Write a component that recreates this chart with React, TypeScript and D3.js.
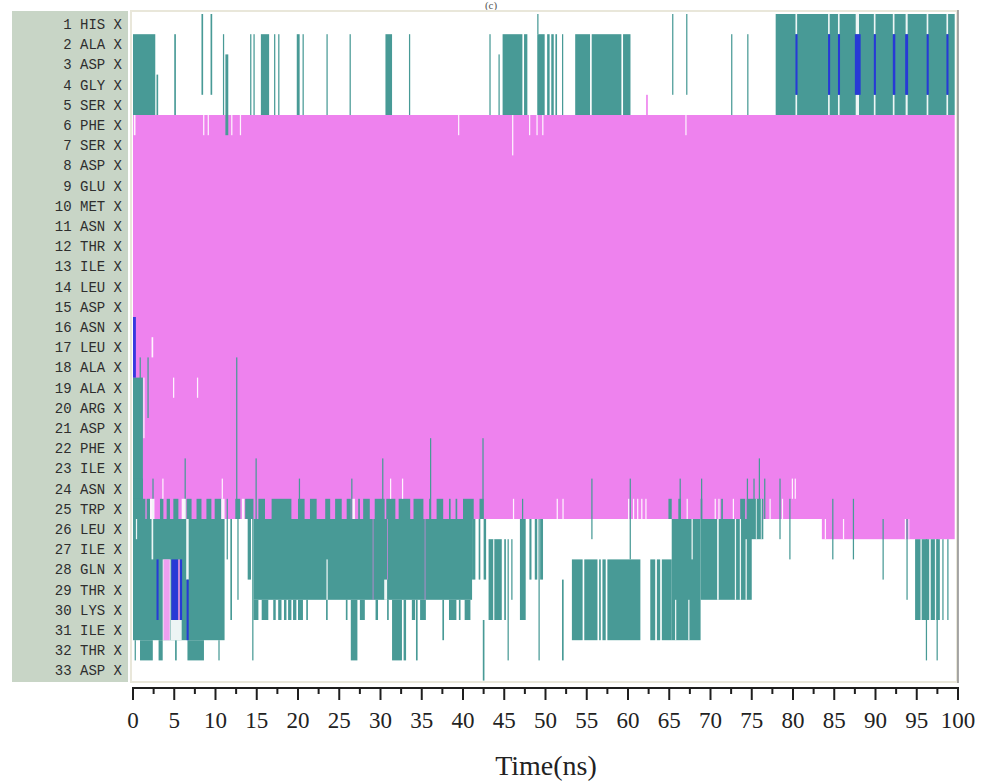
import React from "react";
import * as d3 from "d3";

// residues on the y axis (row 1 at top)
const residues = [
  "HIS", "ALA", "ASP", "GLY", "SER", "PHE", "SER", "ASP", "GLU", "MET", "ASN",
  "THR", "ILE", "LEU", "ASP", "ASN", "LEU", "ALA", "ALA", "ARG", "ASP", "PHE",
  "ILE", "ASN", "TRP", "LEU", "ILE", "GLN", "THR", "LYS", "ILE", "THR", "ASP",
];

const xTicks = [0, 5, 10, 15, 20, 25, 30, 35, 40, 45, 50, 55, 60, 65, 70, 75, 80, 85, 90, 95, 100];
const xMinorTicks = [2.5, 7.5, 12.5, 17.5, 22.5, 27.5, 32.5, 37.5, 42.5, 47.5, 52.5, 57.5, 62.5, 67.5, 72.5, 77.5, 82.5, 87.5, 92.5, 97.5];

// bars: [firstRow, lastRow, startNs, endNs]
const helixBars = [
  [6, 25, 0, 99.6], [26, 26, 83.5, 99.6], [5, 5, 62.2, 62.4],
];

const turnBars = [
  // rows 1-5
  [2, 5, 0, 2.7], [4, 5, 2.85, 3.05], [2, 5, 5.0, 5.2], [1, 4, 8.3, 8.5], [1, 4, 9.4, 9.6],
  [2, 5, 10.9, 11.05], [3, 6, 11.2, 11.55], [2, 5, 14.2, 14.35], [2, 5, 14.6, 14.75],
  [2, 5, 15.5, 16.5], [2, 5, 17.1, 17.25], [2, 5, 17.6, 17.75], [2, 5, 19.85, 20.2],
  [2, 5, 20.55, 20.7], [2, 5, 23.45, 23.6], [2, 5, 26.25, 26.4], [2, 5, 30.6, 31.4],
  [2, 5, 33.45, 33.6], [2, 5, 43.2, 43.35], [3, 5, 44.3, 44.45], [2, 5, 44.8, 47.2],
  [2, 5, 47.4, 47.8], [1, 1, 49.0, 49.15], [2, 5, 49.0, 49.9], [2, 5, 50.2, 50.5],
  [2, 5, 50.7, 51.0], [2, 5, 51.2, 51.4], [2, 5, 52.0, 52.15], [2, 5, 53.6, 55.4],
  [2, 5, 55.6, 59.2], [2, 5, 59.4, 60.3], [1, 4, 65.35, 65.5], [1, 4, 67.05, 67.2],
  [2, 5, 72.5, 72.65], [2, 5, 74.45, 74.6], [1, 5, 77.9, 99.6],
  // lines through the helix
  [19, 25, 0, 1.2], [18, 20, 0.8, 0.95], [18, 20, 1.75, 1.9], [18, 25, 12.5, 12.65],
  [23, 25, 6.25, 6.4], [23, 25, 14.85, 15.0], [24, 25, 2.35, 2.5], [24, 25, 20.1, 20.25],
  [24, 25, 26.45, 26.6], [23, 25, 30.2, 30.35], [22, 25, 36.0, 36.15], [22, 25, 42.35, 42.5],
  [24, 26, 55.55, 55.7], [24, 27, 60.2, 60.35], [24, 25, 66.25, 66.4], [24, 25, 68.85, 69.0],
  [23, 25, 75.85, 76.0], [24, 25, 74.4, 74.55], [24, 25, 75.2, 75.35], [24, 25, 76.5, 76.65],
  [24, 26, 78.35, 78.5], [25, 27, 84.75, 84.9], [25, 27, 87.25, 87.4], [26, 28, 90.85, 91.0],
  [26, 29, 93.75, 93.9], [25, 26, 47.15, 47.3],
  // rows 24-33
  [24, 24, 0, 1.2], [25, 25, 0, 1.5], [26, 31, 0, 11.1],
  [32, 32, 0.2, 0.35], [32, 32, 0.85, 2.4], [32, 32, 3.1, 3.6], [32, 32, 5.1, 5.3],
  [32, 32, 6.6, 8.6], [32, 32, 10.35, 10.5],
  [25, 27, 11.35, 11.5], [26, 30, 11.8, 12.0], [26, 29, 12.65, 12.8], [26, 28, 13.9, 14.3],
  [26, 32, 14.45, 14.6], [26, 29, 14.6, 41.1],
  [26, 28, 41.1, 41.5], [26, 28, 41.9, 42.1], [26, 28, 42.5, 42.8],
  [30, 32, 26.4, 27.2], [30, 32, 31.4, 32.6], [30, 32, 32.8, 33.1], [30, 32, 34.3, 34.5],
  [30, 31, 37.5, 37.7], [31, 33, 42.4, 42.6],
  [27, 30, 43.1, 44.7], [27, 30, 45.0, 45.2], [27, 32, 45.4, 45.55], [27, 29, 45.85, 46.0],
  [26, 30, 46.9, 47.6], [26, 28, 48.05, 48.3], [26, 28, 48.7, 49.0], [26, 28, 49.35, 49.7],
  [26, 32, 49.15, 49.3], [29, 32, 52.0, 52.2],
  [28, 31, 53.2, 54.5], [28, 31, 54.7, 56.3], [28, 31, 56.5, 56.7], [28, 31, 56.9, 57.3],
  [28, 31, 57.5, 61.5], [28, 31, 62.7, 63.3], [28, 31, 63.5, 63.9], [28, 31, 64.1, 65.3],
  [26, 31, 65.3, 68.8], [26, 29, 68.8, 75.0], [25, 26, 74.4, 76.4], [25, 27, 79.55, 79.7],
  [27, 30, 94.8, 97.8], [27, 32, 96.1, 96.25], [27, 32, 97.4, 97.55],
  [27, 30, 98.1, 98.25], [27, 30, 98.7, 98.85],
];

// turn stripes in row 25 (TRP) and row 30 (LYS): [startNs, endNs]
const turnRow25 = [
  [1.66, 2.06], [3.27, 3.68], [4.08, 4.48], [4.89, 5.5], [6.5, 7.1], [7.7, 8.3], [8.9, 9.5],
  [9.9, 10.7], [12.4, 13.0], [13.6, 14.6], [15.2, 16.0], [16.8, 19.2], [20.0, 20.8],
  [21.45, 22.26], [23.3, 23.9], [24.5, 25.3], [25.9, 26.4], [27.3, 27.5], [27.9, 28.7],
  [29.3, 30.5], [30.7, 31.8], [32.2, 33.6], [34.0, 35.2], [35.9, 36.1], [36.8, 37.6],
  [38.3, 38.5], [39.1, 39.3], [40.0, 41.3], [42.0, 42.5], [64.9, 65.3], [66.1, 66.4],
  [68.8, 69.0], [71.3, 71.5], [73.6, 74.2],
];
const turnRow30 = [
  [14.6, 15.2], [15.6, 16.4], [17.0, 17.3], [17.6, 18.0], [18.3, 18.6], [18.8, 19.2],
  [19.4, 19.8], [20.0, 20.6], [21.0, 21.2], [23.4, 23.6], [25.8, 26.0], [27.5, 28.1],
  [29.4, 29.7], [30.8, 31.0], [33.8, 34.2], [34.8, 35.5], [38.3, 39.2], [39.5, 39.7],
  [40.2, 40.9],
];

// coil (no structure) breaks
const coilBars = [
  [6, 6, 0.1, 0.3], [6, 6, 8.5, 8.65], [6, 6, 9.05, 9.2], [6, 6, 11.9, 12.05], [6, 6, 12.95, 13.1],
  [6, 6, 39.4, 39.55], [6, 7, 45.95, 46.1], [6, 6, 48.0, 48.15], [6, 6, 48.9, 49.05],
  [6, 6, 49.6, 49.75], [6, 6, 66.95, 67.1],
  [17, 17, 2.25, 2.45], [19, 19, 4.85, 5.0], [19, 19, 7.75, 7.9], [19, 21, 1.25, 1.4],
  [24, 24, 3.55, 3.7], [24, 24, 10.75, 10.9], [24, 24, 31.15, 31.3], [24, 24, 32.6, 32.75],
  [24, 24, 79.85, 80.0], [24, 24, 80.2, 80.35],
  [25, 25, 2.06, 2.6], [25, 25, 5.9, 6.4], [25, 25, 10.7, 11.1], [25, 25, 13.2, 13.5],
  [25, 25, 26.6, 26.9], [25, 25, 46.05, 46.2], [25, 25, 51.35, 51.5], [25, 25, 52.05, 52.2],
  [25, 25, 60.0, 60.15], [25, 25, 60.6, 60.75], [25, 25, 61.1, 61.25], [25, 25, 61.6, 61.75],
  [25, 25, 62.1, 62.25], [25, 25, 67.1, 67.25], [25, 25, 70.5, 70.65], [25, 25, 70.95, 71.1],
  [25, 25, 72.7, 72.85], [25, 25, 77.15, 77.3], [25, 25, 78.65, 78.8],
  [25, 26, 75.5, 75.6], [25, 26, 76.1, 76.2],
  [26, 26, 83.85, 84.0], [26, 26, 86.05, 86.2], [26, 26, 93.55, 93.7], [26, 26, 94.0, 94.1],
  [1, 1, 80.3, 80.5], [5, 5, 80.3, 80.5], [1, 1, 84.25, 84.45], [5, 5, 84.25, 84.45],
  [1, 1, 85.45, 85.65], [5, 5, 85.45, 85.65], [1, 1, 87.6, 88.0], [5, 5, 87.6, 88.0],
  [1, 1, 89.8, 90.0], [5, 5, 89.8, 90.0], [1, 1, 92.1, 92.3], [5, 5, 92.1, 92.3],
  [1, 1, 93.65, 93.9], [5, 5, 93.65, 93.9], [1, 1, 96.2, 96.4], [5, 5, 96.2, 96.4],
  [1, 1, 98.6, 98.8], [5, 5, 98.6, 98.8],
  [26, 26, 0.35, 0.5], [26, 27, 2.25, 2.45], [26, 28, 6.45, 6.75], [31, 31, 4.6, 5.9],
  [28, 31, 3.6, 4.55], [28, 29, 23.45, 23.6], [29, 29, 30.45, 30.8], [27, 30, 43.65, 43.8],
  [26, 27, 67.7, 67.85], [30, 31, 65.7, 65.85], [30, 31, 67.3, 67.45], [26, 29, 70.8, 71.0],
  [26, 29, 72.95, 73.1], [26, 29, 73.55, 73.7], [27, 29, 74.25, 74.4],
  [27, 30, 95.45, 95.6], [27, 30, 96.5, 96.7], [27, 30, 97.2, 97.35],
];

// helix marks drawn on top of turn regions
const helixOverBars = [
  [28, 31, 3.7, 4.45], [28, 30, 5.45, 5.7],
  [26, 29, 29.05, 29.15], [26, 28, 30.8, 30.9], [26, 29, 35.35, 35.45],
];

// 3-10 helix
const helix310Bars = [
  [16, 18, 0, 0.35], [28, 30, 2.85, 3.1], [28, 30, 4.65, 5.45], [28, 30, 5.7, 5.95],
  [29, 31, 6.5, 6.75],
  [2, 4, 80.3, 80.55], [2, 4, 84.25, 84.5], [2, 4, 85.45, 85.7], [2, 4, 87.5, 88.2],
  [2, 4, 89.8, 90.05], [2, 4, 92.1, 92.4], [2, 4, 93.6, 93.95], [2, 4, 96.2, 96.45],
  [2, 4, 98.6, 98.85],
];

const TEAL = "#489a96";
const VIOLET = "#ee82ee";
const BLUE = "#2430dd";

export default function App() {
  const x = d3.scaleLinear().domain([0, 100]).range([133, 958]);
  const y = d3.scaleLinear().domain([0.5, residues.length + 0.5]).range([14, 680.6]);
  const axisY = 688;

  const bar = (b: number[], fill: string, key: string, opacity = 1) => (
    <rect
      key={key}
      x={x(b[2])}
      width={Math.max(0.8, x(b[3]) - x(b[2]))}
      y={y(b[0] - 0.5)}
      height={y(b[1] + 0.5) - y(b[0] - 0.5)}
      fill={fill}
      opacity={opacity}
    />
  );

  return (
    <div style={{ position: "fixed", left: 0, top: 0 }}>
      <svg width={990} height={782} style={{ display: "block", background: "#fff" }}>
        <text x={491} y={9} textAnchor="middle" fontFamily="Liberation Serif" fontSize={11} fill="#555">
          (c)
        </text>
        {/* residue label panel */}
        <rect x={12} y={11} width={116} height={671} fill="#c8d5c6" />
        {residues.map((r, i) => (
          <text
            key={r + i}
            x={122}
            y={y(i + 1)}
            dy="0.35em"
            textAnchor="end"
            fontFamily="Liberation Mono"
            fontSize={14}
            fill="#2e2e2e"
            style={{ whiteSpace: "pre" }}
          >
            {`${i + 1} ${r} X`}
          </text>
        ))}

        {/* plot frame */}
        <rect x={131} y={11} width={826} height={671} fill="#fff" stroke="#e9e7da" strokeWidth={2} />

        {helixBars.map((b, i) => bar(b, VIOLET, "h" + i))}
        {turnBars.map((b, i) => bar(b, TEAL, "t" + i))}
        {turnRow25.map((s, i) => bar([25, 25, s[0], s[1]], TEAL, "t25" + i))}
        {turnRow30.map((s, i) => bar([30, 30, s[0], s[1]], TEAL, "t30" + i))}
        {coilBars.map((b, i) => bar(b, "#ffffff", "c" + i, 0.9))}
        {helixOverBars.map((b, i) => bar(b, VIOLET, "ho" + i, 0.75))}
        {helix310Bars.map((b, i) => bar(b, BLUE, "g" + i, 0.9))}

        <line x1={958} x2={958} y1={10} y2={683} stroke="#8c8c8c" strokeWidth={1.5} />

        {/* time axis */}
        <line x1={x(0) - 1} x2={x(100) + 1} y1={axisY} y2={axisY} stroke="#1e1e1e" strokeWidth={2} />
        {xTicks.map((t) => (
          <line key={"M" + t} x1={x(t)} x2={x(t)} y1={axisY - 1} y2={axisY + 12} stroke="#1e1e1e" strokeWidth={2} />
        ))}
        {xMinorTicks.map((t) => (
          <line key={"m" + t} x1={x(t)} x2={x(t)} y1={axisY - 1} y2={axisY + 6} stroke="#1e1e1e" strokeWidth={2} />
        ))}
        {xTicks.map((t) => (
          <text key={"l" + t} x={x(t)} y={728} textAnchor="middle" fontFamily="Liberation Serif" fontSize={23} fill="#222">
            {t}
          </text>
        ))}
        <text x={546} y={775} textAnchor="middle" fontFamily="Liberation Serif" fontSize={28} fill="#222">
          Time(ns)
        </text>
      </svg>
    </div>
  );
}
